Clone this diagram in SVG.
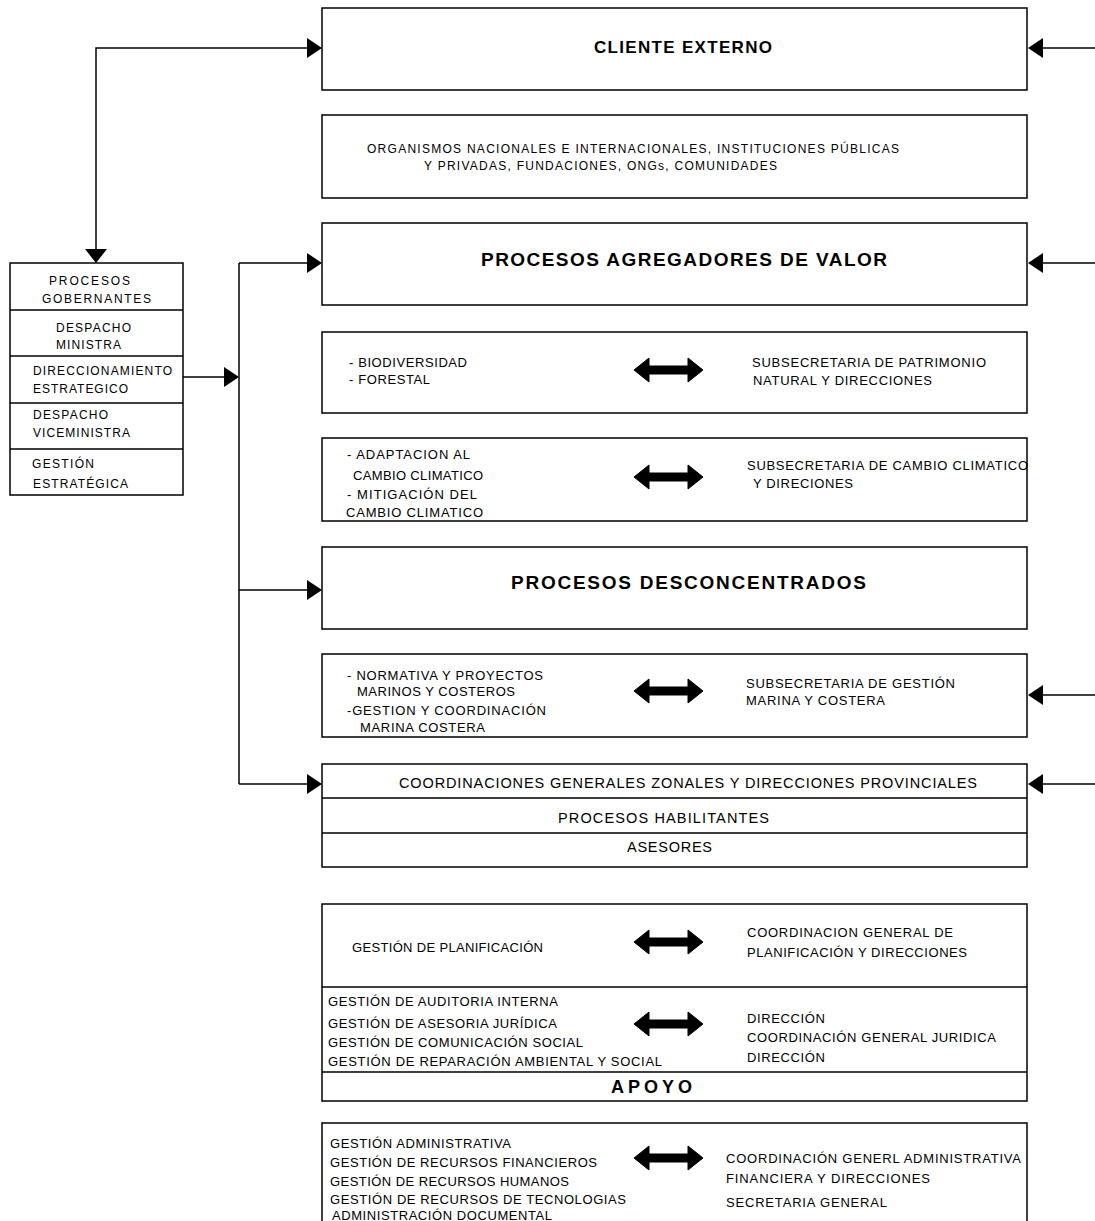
<svg xmlns="http://www.w3.org/2000/svg" width="1095" height="1221" viewBox="0 0 1095 1221">
<style>
.bx{fill:#fff;stroke:#000;stroke-width:1.5}
.ln{fill:none;stroke:#000;stroke-width:1.5}
.ah{fill:#000}
.da{fill:#000;stroke:#000;stroke-width:1;stroke-linejoin:round}
text{font-family:"Liberation Sans",Arial,sans-serif;font-size:13px;fill:#000}
.s{font-size:12px}
.m{font-size:14.5px}
.b{font-weight:bold}
</style>
<rect width="1095" height="1221" fill="#fff"/>

<g id="cliente-externo">
<rect class="bx" x="322" y="8" width="705" height="82"/>
<text class="b" x="594" y="53" style="font-size:17px" textLength="178">CLIENTE EXTERNO</text>
</g>

<g id="organismos">
<rect class="bx" x="322" y="115" width="705" height="83"/>
<text class="s" x="367" y="153" textLength="532">ORGANISMOS NACIONALES E INTERNACIONALES, INSTITUCIONES PÚBLICAS</text>
<text class="s" x="424" y="170" textLength="353">Y PRIVADAS, FUNDACIONES, ONGs, COMUNIDADES</text>
</g>

<g id="procesos-gobernantes">
<rect class="bx" x="10" y="263" width="173" height="232"/>
<path class="ln" d="M10,310 H183 M10,356 H183 M10,403 H183 M10,449 H183"/>
<text class="s" x="49" y="285" textLength="81">PROCESOS</text>
<text class="s" x="42" y="303" textLength="109">GOBERNANTES</text>
<text class="s" x="56" y="332" textLength="75">DESPACHO</text>
<text class="s" x="56" y="349" textLength="65">MINISTRA</text>
<text class="s" x="33" y="375" textLength="139">DIRECCIONAMIENTO</text>
<text class="s" x="33" y="393" textLength="95">ESTRATEGICO</text>
<text class="s" x="33" y="419" textLength="75">DESPACHO</text>
<text class="s" x="33" y="437" textLength="97">VICEMINISTRA</text>
<text class="s" x="32" y="468" textLength="62">GESTIÓN</text>
<text class="s" x="33" y="488" textLength="95">ESTRATÉGICA</text>
</g>

<g id="procesos-agregadores">
<rect class="bx" x="322" y="223" width="705" height="82"/>
<text class="b" x="481" y="266" style="font-size:19px" textLength="406">PROCESOS AGREGADORES DE VALOR</text>
</g>

<g id="patrimonio-natural">
<rect class="bx" x="322" y="332" width="705" height="81"/>
<text x="349" y="367" textLength="118">- BIODIVERSIDAD</text>
<text x="349" y="384" textLength="81">- FORESTAL</text>
<text x="752" y="367" textLength="234">SUBSECRETARIA DE PATRIMONIO</text>
<text x="753" y="385" textLength="179">NATURAL Y DIRECCIONES</text>
</g>

<g id="cambio-climatico">
<rect class="bx" x="322" y="438" width="705" height="83"/>
<text x="347" y="459" textLength="123">- ADAPTACION AL</text>
<text x="353" y="480" textLength="130">CAMBIO CLIMATICO</text>
<text x="347" y="499" textLength="130">- MITIGACIÓN DEL</text>
<text x="346" y="517" textLength="137">CAMBIO CLIMATICO</text>
<text x="747" y="470" textLength="281">SUBSECRETARIA DE CAMBIO CLIMATICO</text>
<text x="753" y="488" textLength="100">Y DIRECIONES</text>
</g>

<g id="procesos-desconcentrados">
<rect class="bx" x="322" y="547" width="705" height="82"/>
<text class="b" x="511" y="589" style="font-size:19px" textLength="355">PROCESOS DESCONCENTRADOS</text>
</g>

<g id="gestion-marina">
<rect class="bx" x="322" y="654" width="705" height="83"/>
<text x="347" y="680" textLength="196">- NORMATIVA Y PROYECTOS</text>
<text x="357" y="696" textLength="158">MARINOS Y COSTEROS</text>
<text x="347" y="715" textLength="199">-GESTION Y COORDINACIÓN</text>
<text x="360" y="732" textLength="125">MARINA COSTERA</text>
<text x="746" y="688" textLength="209">SUBSECRETARIA DE GESTIÓN</text>
<text x="746" y="705" textLength="139">MARINA Y COSTERA</text>
</g>

<g id="coordinaciones-zonales">
<rect class="bx" x="322" y="764" width="705" height="103"/>
<path class="ln" d="M322,798 H1027 M322,833 H1027"/>
<text class="m" x="399" y="788" textLength="578">COORDINACIONES GENERALES ZONALES Y DIRECCIONES PROVINCIALES</text>
<text class="m" x="558" y="823" textLength="211">PROCESOS HABILITANTES</text>
<text class="m" x="627" y="852" textLength="85">ASESORES</text>
</g>

<g id="planificacion">
<rect class="bx" x="322" y="904" width="705" height="197"/>
<path class="ln" d="M322,987 H1027 M322,1072 H1027"/>
<text x="352" y="952" textLength="191">GESTIÓN DE PLANIFICACIÓN</text>
<text x="747" y="937" textLength="206">COORDINACION GENERAL DE</text>
<text x="747" y="957" textLength="220">PLANIFICACIÓN Y DIRECCIONES</text>
<text x="328" y="1006" textLength="230">GESTIÓN DE AUDITORIA INTERNA</text>
<text x="328" y="1028" textLength="229">GESTIÓN DE ASESORIA JURÍDICA</text>
<text x="328" y="1047" textLength="255">GESTIÓN DE COMUNICACIÓN SOCIAL</text>
<text x="328" y="1066" textLength="334">GESTIÓN DE REPARACIÓN AMBIENTAL Y SOCIAL</text>
<text x="747" y="1023" textLength="78">DIRECCIÓN</text>
<text x="747" y="1042" textLength="249">COORDINACIÓN GENERAL JURIDICA</text>
<text x="747" y="1062" textLength="78">DIRECCIÓN</text>
<text class="b" x="611" y="1093" style="font-size:18px" textLength="81">APOYO</text>
</g>

<g id="administrativa">
<rect class="bx" x="322" y="1123" width="705" height="110"/>
<text x="330" y="1148" textLength="181">GESTIÓN ADMINISTRATIVA</text>
<text x="330" y="1167" textLength="267">GESTIÓN DE RECURSOS FINANCIEROS</text>
<text x="330" y="1186" textLength="239">GESTIÓN DE RECURSOS HUMANOS</text>
<text x="330" y="1204" textLength="296">GESTIÓN DE RECURSOS DE TECNOLOGIAS</text>
<text x="332" y="1220" textLength="220">ADMINISTRACIÓN DOCUMENTAL</text>
<text x="726" y="1163" textLength="295">COORDINACIÓN GENERL ADMINISTRATIVA</text>
<text x="726" y="1183" textLength="204">FINANCIERA Y DIRECCIONES</text>
<text x="726" y="1207" textLength="161">SECRETARIA GENERAL</text>
</g>

<g id="connectors">
<path class="ln" d="M96,250 V48 H308"/>
<polygon class="ah" points="322,48 307,38 307,58"/>
<polygon class="ah" points="96,263 85,249 107,249"/>
<path class="ln" d="M1095,48 H1040"/>
<polygon class="ah" points="1028,48 1043,38 1043,58"/>
<path class="ln" d="M1095,263 H1040"/>
<polygon class="ah" points="1028,263 1043,253 1043,273"/>
<path class="ln" d="M1095,695 H1040"/>
<polygon class="ah" points="1028,695 1043,685 1043,705"/>
<path class="ln" d="M1095,784 H1040"/>
<polygon class="ah" points="1028,784 1043,774 1043,794"/>
<path class="ln" d="M183,377 H226"/>
<polygon class="ah" points="239,377 224,367 224,387"/>
<path class="ln" d="M239,263 V784"/>
<path class="ln" d="M239,263 H308"/>
<polygon class="ah" points="322,263 307,253 307,273"/>
<path class="ln" d="M239,590 H308"/>
<polygon class="ah" points="322,590 307,580 307,600"/>
<path class="ln" d="M239,784 H308"/>
<polygon class="ah" points="322,784 307,774 307,794"/>
<path class="da" d="M634,370 L649,358 L649,366 L688,366 L688,358 L703,370 L688,382 L688,374 L649,374 L649,382 Z"/>
<path class="da" d="M634,477 L649,465 L649,473 L688,473 L688,465 L703,477 L688,489 L688,481 L649,481 L649,489 Z"/>
<path class="da" d="M634,691 L649,679 L649,687 L688,687 L688,679 L703,691 L688,703 L688,695 L649,695 L649,703 Z"/>
<path class="da" d="M634,942 L649,930 L649,938 L688,938 L688,930 L703,942 L688,954 L688,946 L649,946 L649,954 Z"/>
<path class="da" d="M634,1024 L649,1012 L649,1020 L688,1020 L688,1012 L703,1024 L688,1036 L688,1028 L649,1028 L649,1036 Z"/>
<path class="da" d="M634,1158 L649,1146 L649,1154 L688,1154 L688,1146 L703,1158 L688,1170 L688,1162 L649,1162 L649,1170 Z"/>
</g>
</svg>
